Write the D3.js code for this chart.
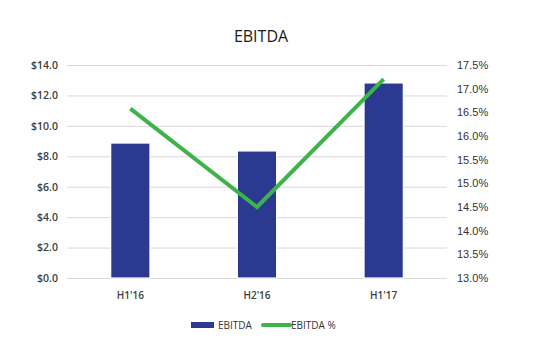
<!DOCTYPE html>
<html><head><meta charset="utf-8">
<script src="https://cdn.jsdelivr.net/npm/d3@7"></script>
<style>body{margin:0;background:#fff}svg{display:block}</style>
</head><body>
<script>
const categories = ["H1'16", "H2'16", "H1'17"];
const ebitda = [8.87, 8.35, 12.82];
const ebitdaPct = [16.58, 14.50, 17.20];
const leftTicks = [0, 2, 4, 6, 8, 10, 12, 14];
const rightTicks = [13.0, 13.5, 14.0, 14.5, 15.0, 15.5, 16.0, 16.5, 17.0, 17.5];

const W = 535, H = 353;
const m = {l: 67, r: 88, t: 65, b: 75};
const svg = d3.select("body").append("svg").attr("width", W).attr("height", H);

const x = d3.scaleBand().domain(categories).range([m.l, W - m.r]).paddingInner(0.69).paddingOuter(0.345);
const y = d3.scaleLinear().domain([0, 14]).range([H - m.b, m.t]);
const y2 = d3.scaleLinear().domain([13, 17.5]).range([H - m.b, m.t]);

// grid
svg.append("g").selectAll("line").data(leftTicks).join("line")
  .attr("x1", m.l).attr("x2", W - m.r)
  .attr("y1", d => y(d) + 0.5).attr("y2", d => y(d) + 0.5)
  .attr("stroke", "#d9d9d9").attr("stroke-width", 1);

// left axis
const ax = svg.append("g").attr("transform", `translate(${m.l},0)`)
  .call(d3.axisLeft(y).tickValues(leftTicks).tickFormat(d => "$" + d3.format(".1f")(d)).tickSize(0).tickPadding(9));
ax.select(".domain").remove();
ax.selectAll("text").attr("font-family", "'Open Sans', sans-serif").attr("font-size", 10.5).attr("font-weight", 600).attr("fill", "#404040");

// right axis
const ax2 = svg.append("g").attr("transform", `translate(${W - m.r},0)`)
  .call(d3.axisRight(y2).tickValues(rightTicks).tickFormat(d => d3.format(".1f")(d) + "%").tickSize(0).tickPadding(10));
ax2.select(".domain").remove();
ax2.selectAll("text").attr("font-family", "'Liberation Sans', Arial, sans-serif").attr("font-size", 11).attr("fill", "#333333");

// bars
svg.append("g").selectAll("rect").data(ebitda).join("rect")
  .attr("x", (d, i) => x(categories[i]))
  .attr("y", d => y(d))
  .attr("width", x.bandwidth())
  .attr("height", d => y(0) - y(d))
  .attr("fill", "#2B3990").attr("stroke", "#ffffff").attr("stroke-width", 1.2);

// x labels
svg.append("g").selectAll("text").data(categories).join("text")
  .attr("x", d => x(d) + x.bandwidth() / 2).attr("y", H - m.b + 21)
  .attr("text-anchor", "middle")
  .attr("font-family", "'Open Sans', sans-serif").attr("font-size", 10).attr("font-weight", 600).attr("fill", "#404040")
  .text(d => d);

// line
const line = d3.line().x((d, i) => x(categories[i]) + x.bandwidth() / 2).y(d => y2(d));
svg.append("path").datum(ebitdaPct).attr("d", line)
  .attr("fill", "none").attr("stroke", "#3DB34A").attr("stroke-width", 4).attr("stroke-linejoin", "miter");

// title
svg.append("text").attr("x", 261).attr("y", 42).attr("text-anchor", "middle")
  .attr("font-family", "'Open Sans', sans-serif").attr("font-size", 16).attr("fill", "#1a1a1a").text("EBITDA");

// legend
const lg = svg.append("g").attr("transform", "translate(0,325)");
lg.append("rect").attr("x", 191).attr("y", -3).attr("width", 23).attr("height", 6).attr("fill", "#2B3990");
lg.append("text").attr("x", 218).attr("y", 4).attr("font-family", "'Open Sans', sans-serif").attr("font-size", 10).attr("fill", "#333333").text("EBITDA");
lg.append("line").attr("x1", 263).attr("x2", 290).attr("y1", 0).attr("y2", 0).attr("stroke", "#3DB34A").attr("stroke-width", 4).attr("stroke-linecap", "round");
lg.append("text").attr("x", 291).attr("y", 4).attr("font-family", "'Open Sans', sans-serif").attr("font-size", 10).attr("fill", "#333333").text("EBITDA %");
</script>
</body></html>
